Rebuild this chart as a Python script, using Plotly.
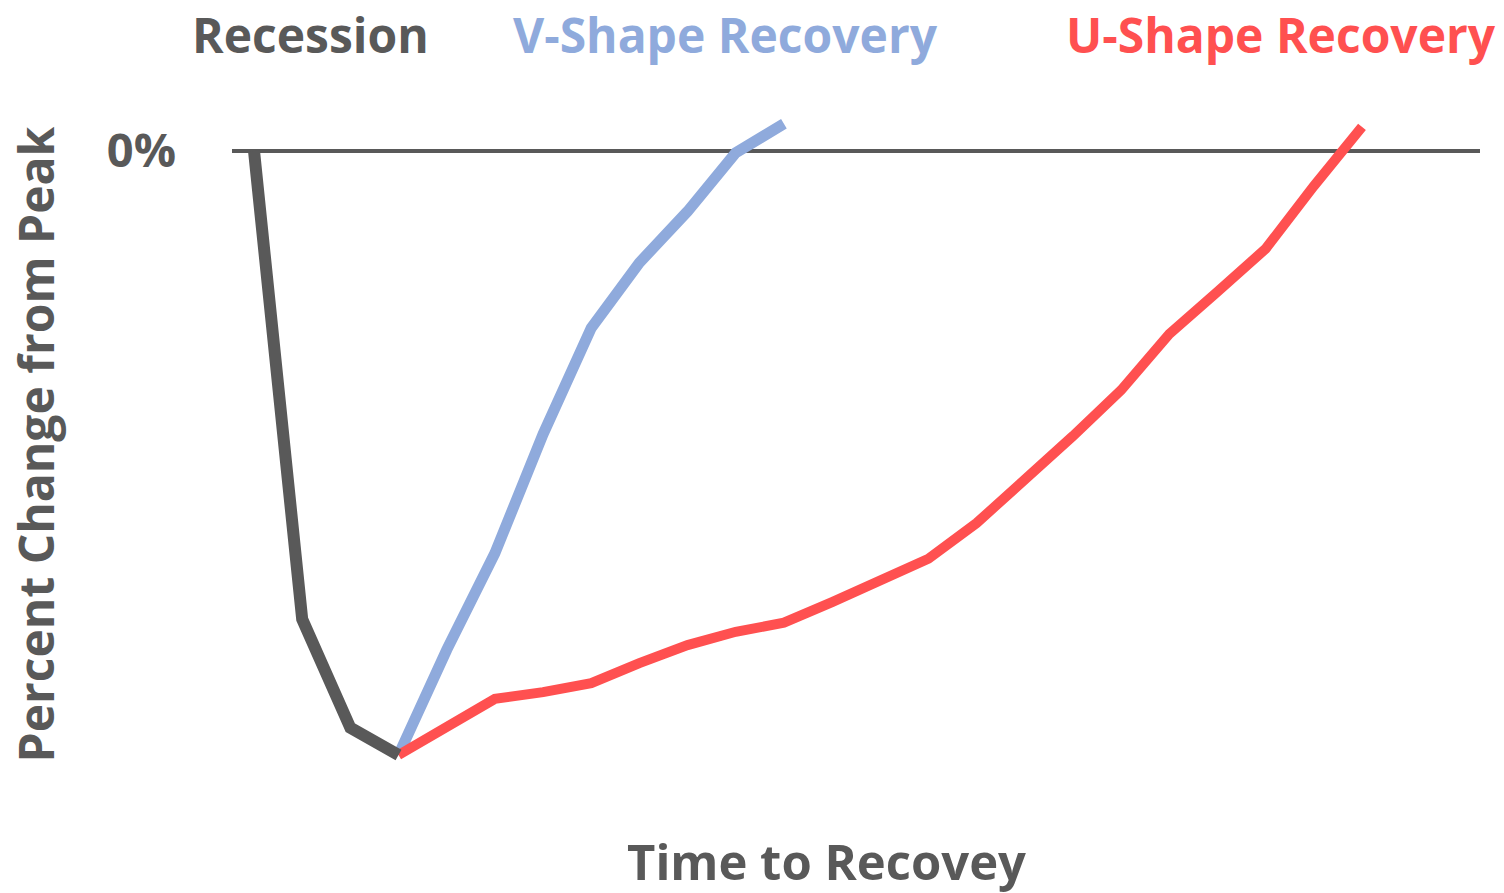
import plotly.graph_objects as go

# Data (time index, percent change from peak)
recession_x = [0, 1, 2, 3]
recession_y = [0, -77.5, -95.5, -100]

v_x = [3, 4, 5, 6, 7, 8, 9, 10, 11]
v_y = [-100, -82.6, -66.6, -46.9, -29.3, -18.5, -10.0, -0.3, 4.5]

u_x = list(range(3, 24))
u_y = [-100, -95.2, -90.7, -89.6, -88.1, -84.8, -81.8, -79.6, -78.1, -74.7,
       -71.0, -67.5, -61.6, -54.6, -47.2, -39.6, -30.3, -23.3, -16.2, -5.8, 4.0]

GRAY = "#595959"
BLUE = "#8FAADC"
RED = "#FF5050"
FONT = "Open Sans"

W, H = 1504, 893
L, R, T, B = 232, 24, 100, 93

def px(x):
    return (x - L) / (W - L - R)

def py(y):
    return 1 - (y - T) / (H - T - B)

fig = go.Figure()
fig.add_trace(go.Scatter(x=v_x, y=v_y, mode="lines", line=dict(color=BLUE, width=11), hoverinfo="skip"))
fig.add_trace(go.Scatter(x=u_x, y=u_y, mode="lines", line=dict(color=RED, width=10), hoverinfo="skip"))
fig.add_trace(go.Scatter(x=recession_x, y=recession_y, mode="lines", line=dict(color=GRAY, width=12), hoverinfo="skip"))

annotations = [
    dict(text="<b>Recession</b>", x=px(310), y=py(0), yanchor="top", font=dict(color=GRAY, size=48, family=FONT)),
    dict(text="<b>V-Shape Recovery</b>", x=px(725), y=py(0), yanchor="top", font=dict(color=BLUE, size=48, family=FONT)),
    dict(text="<b>U-Shape Recovery</b>", x=px(1281), y=py(0), yanchor="top", font=dict(color=RED, size=48, family=FONT)),
    dict(text="<b>Time to Recovey</b>", x=px(826), y=py(893), yanchor="bottom", yshift=-3, font=dict(color=GRAY, size=49, family=FONT)),
    dict(text="<b>Percent Change from Peak</b>", x=px(0), xanchor="left", y=py(445), textangle=-90,
         font=dict(color=GRAY, size=48, family=FONT)),
]
for a in annotations:
    a.setdefault("xanchor", "center")
    a.setdefault("yanchor", "middle")
    a.update(xref="paper", yref="paper", showarrow=False)

fig.update_layout(
    width=W, height=H,
    margin=dict(l=L, r=R, t=T, b=B),
    paper_bgcolor="white", plot_bgcolor="white",
    showlegend=False,
    annotations=annotations,
    xaxis=dict(range=[-0.457, 25.45], showgrid=False, zeroline=False, showticklabels=False,
               showline=False, fixedrange=True),
    yaxis=dict(range=[-107.45, 8.44], showgrid=False, zeroline=True, zerolinecolor=GRAY,
               zerolinewidth=4, tickvals=[0], ticktext=["<b>0%</b>"], ticks="",
               tickfont=dict(color=GRAY, size=47, family=FONT), ticklabelstandoff=55,
               showline=False, fixedrange=True),
)

fig.write_html("out.html", config={"displayModeBar": False},
               post_script="document.body.style.margin='0';")
